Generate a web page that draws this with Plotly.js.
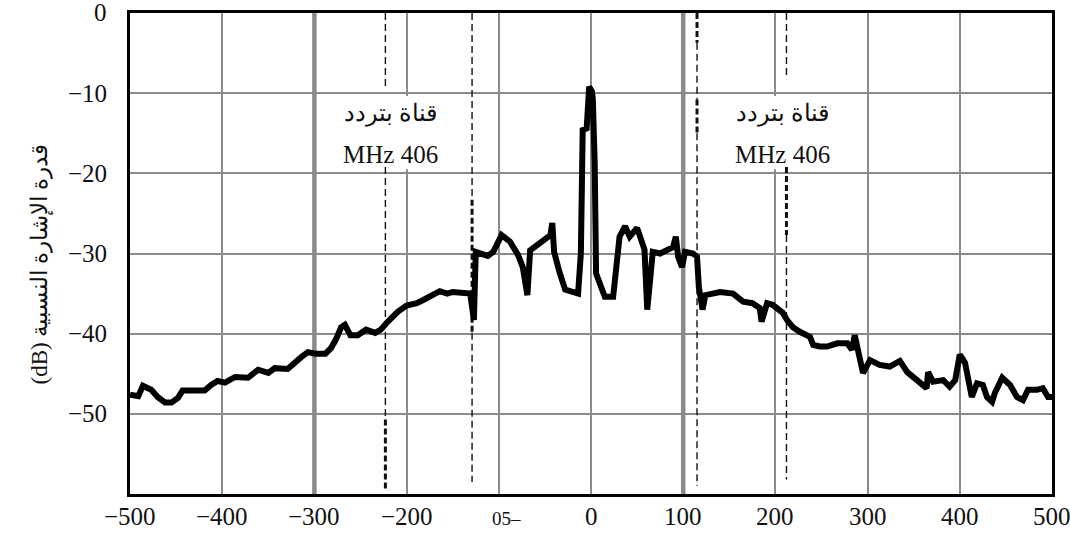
<!DOCTYPE html>
<html>
<head>
<meta charset="utf-8">
<script src="https://cdn.plot.ly/plotly-3.0.1.min.js"></script>
<style>
html,body{margin:0;padding:0;background:#fff;}
#chart{width:1070px;height:534px;}
</style>
</head>
<body>
<div id="chart"></div>
<script>
// Frequency offset (MHz) and relative signal power (dB)
const freq = [-500,-491,-486,-477,-470,-462,-455,-448,-443,-419,-412,-405,-397,-386,-372,-361,-350,-343,-329,-321,-314,-307,-299,-288,-282,-277,-271,-267,-261,-253,-244,-234,-228,-222,-215,-210,-200,-189,-182,-171,-164,-156,-150,-131,-127,-125,-117,-112,-106,-97,-88,-79,-74,-69,-66,-59,-52,-44,-42,-40,-34,-28,-14,-11,-9,-4.7,-2,1,2,4,5.5,10,15,24,27,31,37,42,50,55,58,61,64,67,75,84,89,92,94.5,98.7,102,110.6,115,117,121,124,140,154,165,175,183,185,191,197,208,212.6,219,227,237.5,241,248,256,267,278,283,286,289.6,295,302.6,313,324,335,343,353.6,364,365.6,371,382,389,395,400,405.6,409,413,418.6,425,429.5,435,438,446,454.5,462,468.5,474,483.7,490,495.7,500];
const power = [-47.6,-47.8,-46.5,-47.0,-47.9,-48.6,-48.6,-48.0,-47.1,-47.1,-46.4,-45.9,-46.1,-45.4,-45.5,-44.5,-44.9,-44.3,-44.4,-43.5,-42.9,-42.3,-42.5,-42.5,-41.8,-40.8,-39.2,-38.9,-40.2,-40.2,-39.5,-39.9,-39.5,-38.7,-37.9,-37.3,-36.5,-36.2,-35.8,-35.2,-34.7,-35.0,-34.8,-35.0,-38.3,-29.8,-30.0,-30.3,-29.8,-27.7,-28.5,-30.2,-31.7,-35.2,-29.6,-29.0,-28.3,-27.7,-26.2,-29.8,-32.4,-34.5,-35.0,-30.0,-14.6,-14.4,-9.2,-9.8,-10.8,-18.7,-32.5,-34.1,-35.4,-35.4,-31.7,-27.9,-26.6,-27.9,-26.8,-28.3,-29.5,-37.0,-32.5,-29.8,-30.0,-29.6,-29.2,-27.9,-30.4,-31.7,-29.8,-30.0,-30.4,-34.2,-37.0,-35.2,-34.8,-35.0,-36.0,-36.2,-36.8,-38.5,-36.2,-36.4,-37.4,-38.3,-39.2,-39.8,-40.4,-41.4,-41.6,-41.6,-41.2,-41.2,-42.0,-40.2,-42.0,-44.9,-43.3,-43.9,-44.1,-43.4,-44.8,-45.8,-46.8,-44.8,-46.0,-45.8,-46.6,-45.8,-42.6,-43.6,-45.8,-47.9,-46.2,-46.4,-47.9,-48.5,-47.4,-45.5,-46.4,-47.9,-48.3,-47.0,-47.0,-46.8,-47.9,-47.9];

const xTickVals = [-500,-400,-300,-200,-100,0,100,200,300,400,500];
const xTickText = ["\u2212500","\u2212400","\u2212300","\u2212200","","0","100","200","300","400","500"];
const oddTickLabel = "05\u2013";   // label printed near the −100 tick in the reference
const oddTickPos = -92;
const yTickVals = [0,-10,-20,-30,-40,-50];
const yTickText = ["0","\u221210","\u221220","\u221230","\u221240","\u221250"];
const channelEdges = [-223,-129,115,212];
const labelCenters = [-217,208];
const labelLine1 = "قناة بتردد";
const labelLine2 = "MHz 406";
const yTitle = "(dB) قدرة الإشارة النسبية";

const FONT = "Liberation Serif";
const GRID = "#8a8a8a";
const TXT = '#111';
const W = 1070, H = 534;
const L = 130, R = 1052, T = 13, B = 494;   // plot-area edges in pixels

const shapes = [];
[-300,100].forEach(v => shapes.push({type:'line',layer:'between',xref:'x',yref:'y',x0:v,x1:v,y0:-60,y1:0,line:{color:GRID,width:4.5}}));
labelCenters.forEach(c => shapes.push({type:'rect',layer:'between',xref:'x',yref:'y',x0:c-56,x1:c+56,y0:-19.5,y1:-10.35,fillcolor:'#fff',line:{width:0}}));
const segs = [
  [0,0,-9.6,false],[0,-19.2,-50.7,false],[0,-50.7,-59.5,true],
  [1,0,-23.3,false],[1,-23.3,-39.9,true],[1,-39.9,-58.5,false],
  [2,0,-3.7,true],[2,-3.7,-10.8,false],[2,-10.8,-15,true],[2,-15,-59,false],
  [3,0,-8,false],[3,-19.2,-27.7,true],[3,-27.7,-58.2,false]
];
segs.forEach(s => shapes.push({type:'line',layer:'between',xref:'x',yref:'y',x0:channelEdges[s[0]],x1:channelEdges[s[0]],y0:s[1],y1:s[2],
  line:{color:'#111',width:s[3]?3:1.4,dash:s[3]?'6px,3px':'7px,4px'}}));

const px = x => x / W;           // paper coords when margins are zero
const py = y => (H - y) / H;

const annotations = [];
labelCenters.forEach(c => {
  annotations.push({x:c,y:-12.5,xref:'x',yref:'y',text:labelLine1,showarrow:false,font:{family:FONT,size:24,color:TXT}});
  annotations.push({x:c,y:-17.6,xref:'x',yref:'y',text:labelLine2,showarrow:false,font:{family:FONT,size:25,color:TXT}});
});
annotations.push({x:px(24),y:py(265),xref:'paper',yref:'paper',text:yTitle,showarrow:false,textangle:-90,
  font:{family:FONT,size:23,color:TXT}});
xTickVals.forEach((v,i) => { if (xTickText[i]) annotations.push({x:v,y:py(516),xref:'x',yref:'paper',text:xTickText[i],
  showarrow:false,xanchor:'center',yanchor:'middle',font:{family:FONT,size:25,color:TXT}}); });
annotations.push({x:oddTickPos,y:py(518),xref:'x',yref:'paper',text:oddTickLabel,showarrow:false,yanchor:'middle',
  font:{family:FONT,size:19,color:TXT}});
yTickVals.forEach((v,i) => annotations.push({x:px(109),y:v,xref:'paper',yref:'y',text:yTickText[i],
  showarrow:false,xanchor:'right',yanchor:'middle',font:{family:FONT,size:25,color:TXT}}));

const trace = {x:freq,y:power,type:'scatter',mode:'lines',line:{color:'#000',width:6},hoverinfo:'skip'};

const layout = {
  width:W,height:H,
  margin:{l:0,r:0,t:0,b:0,pad:0},
  paper_bgcolor:'#fff',plot_bgcolor:'#fff',
  showlegend:false,
  font:{family:FONT,size:24,color:TXT},
  xaxis:{domain:[L/W,R/W],range:[-500,500],tickmode:'array',tickvals:xTickVals,showticklabels:false,showgrid:true,gridcolor:GRID,gridwidth:2,
         zeroline:false,showline:true,mirror:true,linecolor:'#000',linewidth:3,ticks:''},
  yaxis:{domain:[(H-B)/H,(H-T)/H],range:[-60,0],tickmode:'array',tickvals:yTickVals,showticklabels:false,showgrid:true,gridcolor:GRID,gridwidth:2,
         zeroline:false,showline:true,mirror:true,linecolor:'#000',linewidth:3,ticks:''},
  shapes:shapes,
  annotations:annotations
};

Plotly.newPlot('chart',[trace],layout,{staticPlot:true});
</script>
</body>
</html>
